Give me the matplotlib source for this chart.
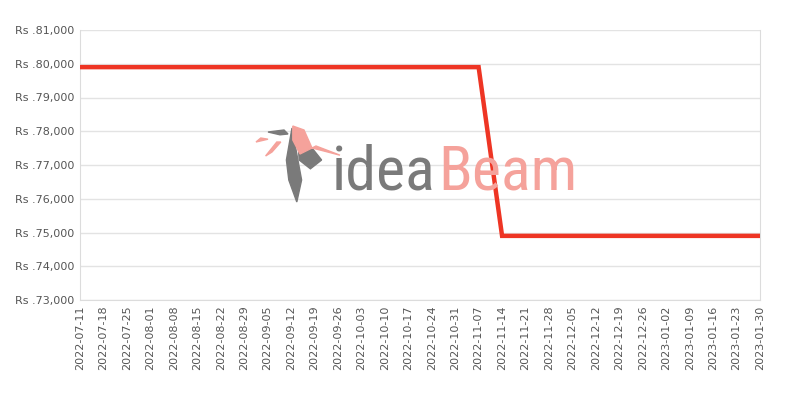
import matplotlib
matplotlib.use("Agg")
import matplotlib.pyplot as plt
import matplotlib.dates as mdates
from matplotlib import font_manager
from matplotlib.patches import Polygon
import numpy as np
import datetime as dt

# price history
dates = ["2022-07-11", "2022-11-07", "2022-11-14", "2023-01-30"]
prices = [79900, 79900, 74900, 74900]

tick_start = "2022-07-11"
tick_end = "2023-01-30"

x = [dt.datetime.strptime(d, "%Y-%m-%d") for d in dates]
ticks = []
t = dt.datetime.strptime(tick_start, "%Y-%m-%d")
t_end = dt.datetime.strptime(tick_end, "%Y-%m-%d")
while t <= t_end:
    ticks.append(t)
    t += dt.timedelta(days=7)

fig = plt.figure(figsize=(8, 4), dpi=100)
ax = fig.add_axes([0.1, 0.25, 0.85, 0.675])

# watermark logo (behind the line); pick a narrow face if there is one
names = set(f.name for f in font_manager.fontManager.ttflist)
logo_font = "Liberation Sans"
for cand in ["Roboto Condensed", "Liberation Sans Narrow", "Open Sans Condensed", "Roboto"]:
    if cand in names:
        logo_font = cand
        break

size = 47
gap = 2
t1 = fig.text(0.415, 0.525, "idea", fontsize=size, color="#7a7a7a", family=logo_font,
              ha="left", va="baseline", zorder=0)
t2 = fig.text(0.6, 0.525, "Beam", fontsize=size, color="#f5a29b", family=logo_font,
              ha="left", va="baseline", zorder=0)
fig.canvas.draw()
w = t1.get_window_extent().width + t2.get_window_extent().width
size = size * 243 / w
t1.set_fontsize(size)
t2.set_fontsize(size)
fig.canvas.draw()
bb = t1.get_window_extent()
t2.set_x((bb.x1 + gap) / 800)

grey = "#7a7a7a"
pink = "#f5a29b"
shapes = [
    ([[0.365, 0.68], [0.377, 0.55], [0.371, 0.495], [0.361, 0.55], [0.358, 0.6]], grey),
    ([[0.372, 0.66], [0.39, 0.63], [0.402, 0.6], [0.388, 0.578], [0.374, 0.6]], grey),
    ([[0.366, 0.685], [0.38, 0.675], [0.39, 0.63], [0.4, 0.625],
      [0.425, 0.612], [0.395, 0.635], [0.375, 0.615], [0.366, 0.65]], pink),
    ([[0.335, 0.67], [0.355, 0.675], [0.36, 0.665], [0.35, 0.663]], grey),
    ([[0.332, 0.61], [0.346, 0.645], [0.351, 0.645], [0.34, 0.62]], pink),
    ([[0.32, 0.645], [0.335, 0.652], [0.326, 0.655]], pink),
]
for pts, c in shapes:
    fig.patches.append(Polygon(pts, closed=True, transform=fig.transFigure, color=c))

ax.set_facecolor("none")
ax.plot(x, prices, color="#ee3524", linewidth=3.2, solid_joinstyle="miter", zorder=3)

ax.set_ylim(73000, 81000)
ax.set_yticks(np.arange(73000, 81001, 1000))
ax.set_yticklabels(["Rs .{:,}".format(v) for v in range(73000, 81001, 1000)])
ax.set_xlim(ticks[0], ticks[-1])
ax.set_xticks(ticks)
ax.xaxis.set_major_formatter(mdates.DateFormatter("%Y-%m-%d"))
plt.setp(ax.get_xticklabels(), rotation=90)

ax.grid(axis="y", color="#e3e3e3", linewidth=1)
ax.set_axisbelow(True)
for side in ["left", "right", "bottom"]:
    ax.spines[side].set_color("#dcdcdc")
ax.spines["top"].set_visible(False)
ax.tick_params(length=0, labelsize=8, labelcolor="#555555", pad=4)

fig.savefig("out.png", dpi=100)
